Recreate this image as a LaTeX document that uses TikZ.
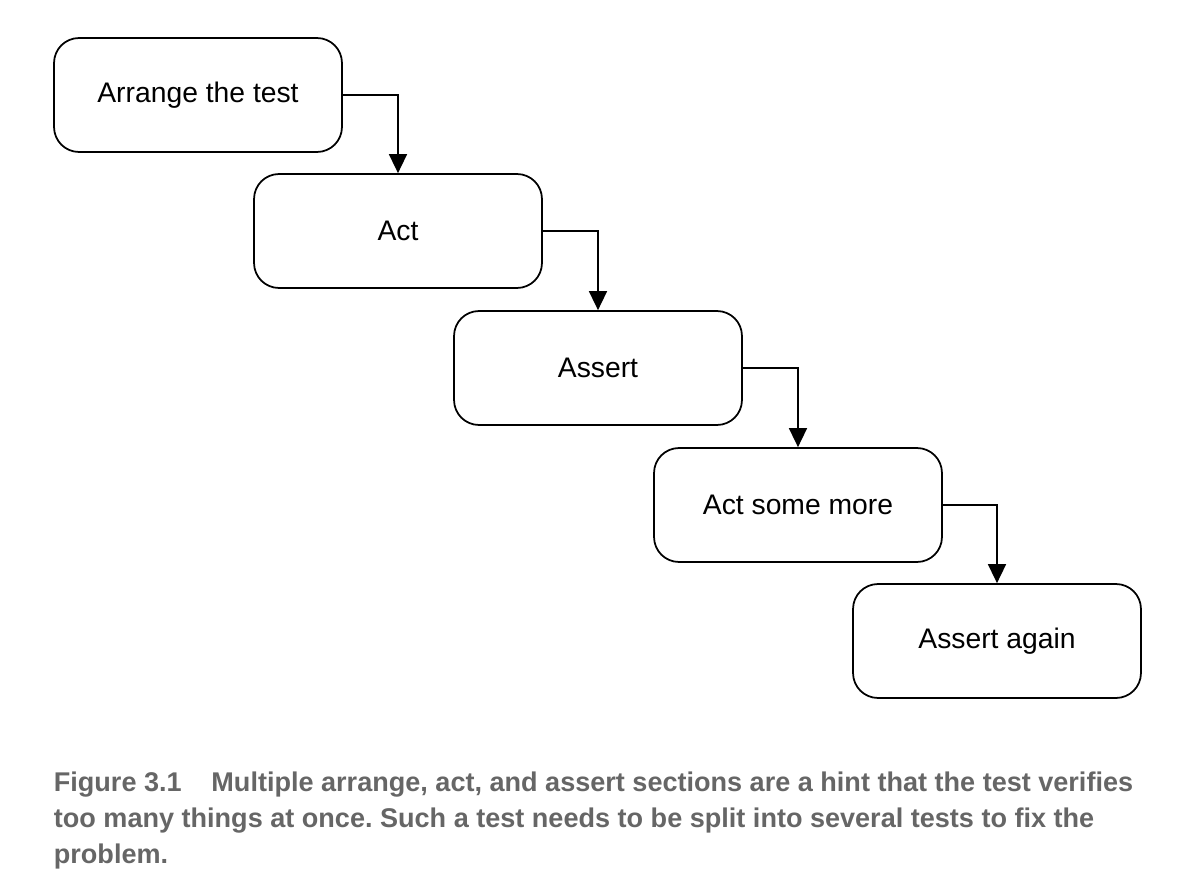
\documentclass[tikz,border=0pt]{standalone}
\usepackage{fontspec}
\setmainfont{Liberation Sans}
\usetikzlibrary{arrows.meta}

\definecolor{capgray}{HTML}{666666}

\begin{document}
\begin{tikzpicture}[x=0.02cm,y=-0.02cm,
  every node/.style={draw,rounded corners=0.5cm,line width=1pt,
    minimum width=5.76cm,minimum height=2.28cm,font=\fontsize{16.1}{19}\selectfont},
  flow/.style={line width=0.9pt,-{Triangle[width=0.36cm,length=0.38cm]}}]
\useasboundingbox (0,0) rectangle (1190,882);

\node (arrange) at (198,95) {Arrange the test};
\node (act) at (398,231) {Act};
\node (assert) at (598,368) {Assert};
\node (actmore) at (798,505) {Act some more};
\node (assertagain) at (997,641) {Assert again};

\draw[flow] (arrange.east) -| (act.north);
\draw[flow] (act.east) -| (assert.north);
\draw[flow] (assert.east) -| (actmore.north);
\draw[flow] (actmore.east) -| (assertagain.north);

\node[draw=none,rounded corners=0pt,minimum width=0pt,minimum height=0pt,
  anchor=north west,align=left,inner sep=0pt,text=capgray,
  font=\fontsize{15.4}{20.4}\selectfont\bfseries\frenchspacing] (caption) at (53,771)
  {Figure 3.1\hspace{1.1em}Multiple arrange, act, and assert sections are a hint that the test verifies\\
   too many things at once. Such a test needs to be split into several tests to fix the\\
   problem.};
\end{tikzpicture}
\end{document}
